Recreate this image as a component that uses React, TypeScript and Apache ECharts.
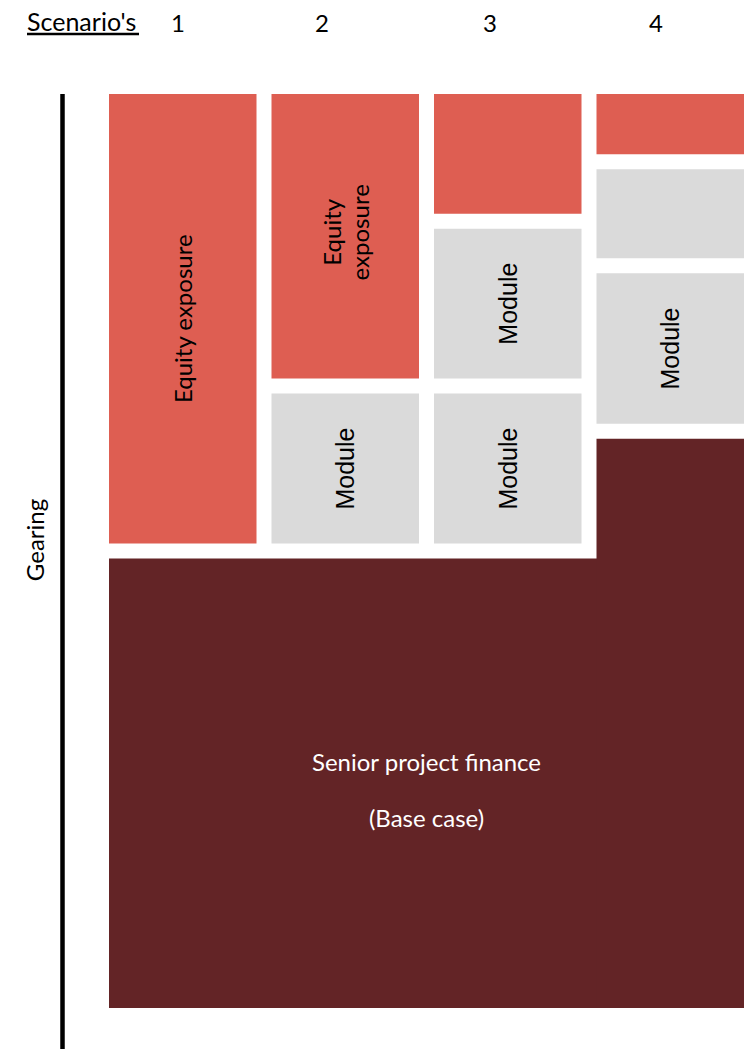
import React, { useEffect, useRef } from "react";
import * as echarts from "echarts";

// Scenario headings
const scenarios = ["1", "2", "3", "4"];
const scenarioTitle = "Scenario's";
const axisTitle = "Gearing";

// Gearing levels (0 = bottom, 100 = top) per scenario
const seniorTop = [50, 50, 50, 62.9];
const equityFrom = [50, 67.75, 85.5, 91.9];
const equityLabels = ["Equity exposure", "Equity\nexposure", "", ""];
// [scenario index, from, to]
const modules: number[][] = [
  [1, 50, 67.75],
  [2, 50, 67.75],
  [2, 67.75, 85.5],
  [3, 62.9, 80.7],
];
const unlabelled: number[][] = [[3, 80.7, 91.9]];
const seniorLabel = "Senior project finance\n\n(Base case)";

const COLORS: Record<string, string> = {
  equity: "#DE5E52",
  module: "#DADADA",
  blank: "#DADADA",
  senior: "#632426",
};

type Block = { x0: number; x1: number; y0: number; y1: number; kind: string; label: string };

const baseTop = Math.min(...seniorTop);
const blocks: Block[] = [
  { x0: 0, x1: scenarios.length, y0: 0, y1: baseTop, kind: "senior", label: seniorLabel },
  ...seniorTop
    .map((t, i) => ({ x0: i, x1: i + 1, y0: 0, y1: t, kind: "senior", label: "" }))
    .filter((b) => b.y1 > baseTop),
  ...equityFrom.map((f, i) => ({ x0: i, x1: i + 1, y0: f, y1: 100, kind: "equity", label: equityLabels[i] })),
  ...modules.map(([i, a, b]) => ({ x0: i, x1: i + 1, y0: a, y1: b, kind: "module", label: "Module" })),
  ...unlabelled.map(([i, a, b]) => ({ x0: i, x1: i + 1, y0: a, y1: b, kind: "blank", label: "" })),
];

const headerX = [178, 322, 490, 656];

// layout (pixels)
const GRID_LEFT = 109;
const GRID_TOP = 94;
const GRID_W = 635;
const GRID_H = 914;
const HALF_GAP = 7.5;

export default function App() {
  const ref = useRef<HTMLDivElement>(null);
  useEffect(() => {
    document.body.style.margin = "0";
    const chart = echarts.init(ref.current!, null, { renderer: "svg" });
    const n = scenarios.length;
    const xPitch = (GRID_W + 2 * HALF_GAP) / n; // px per unit
    const xPad = HALF_GAP / xPitch;
    const yScale = (GRID_H + 2 * HALF_GAP) / 100;
    const yPad = HALF_GAP / yScale;
    const half = HALF_GAP;
    const option: any = {
      animation: false,
      grid: { left: GRID_LEFT, top: GRID_TOP, width: GRID_W, height: GRID_H, containLabel: false },
      xAxis: { type: "value", min: xPad, max: n - xPad, show: false },
      yAxis: { type: "value", min: yPad, max: 100 - yPad, show: false },
      series: [
        {
          type: "custom",
          clip: false,
          encode: { x: [0, 1], y: [2, 3] },
          data: blocks.map((b) => [b.x0, b.x1, b.y0, b.y1]),
          renderItem: (params: any, api: any) => {
            const b = blocks[params.dataIndex];
            const p0 = api.coord([api.value(0), api.value(3)]);
            const p1 = api.coord([api.value(1), api.value(2)]);
            const x = p0[0] + half;
            const y = p0[1] + half;
            const w = p1[0] - p0[0] - 2 * half;
            const h = p1[1] - p0[1] - 2 * half;
            const children: any[] = [
              { type: "rect", shape: { x, y, width: w, height: h }, style: { fill: COLORS[b.kind] } },
            ];
            if (b.label) {
              if (b.kind === "senior") {
                children.push({
                  type: "text",
                  x: x + w / 2,
                  y: y + h / 2 + 6,
                  style: {
                    text: b.label,
                    fill: "#FFFFFF",
                    font: "24px Lato, 'Open Sans', sans-serif",
                    textAlign: "center",
                    textVerticalAlign: "middle",
                    lineHeight: 28,
                  },
                });
              } else {
                const isModule = b.kind === "module";
                children.push({
                  type: "text",
                  x: x + w / 2,
                  y: y + h / 2 - (b.label.includes("\n") ? 4 : 0),
                  rotation: Math.PI / 2,
                  style: {
                    text: b.label,
                    fill: "#000000",
                    font: isModule
                      ? "25px 'Liberation Sans', Arial, sans-serif"
                      : "24px Lato, 'Open Sans', sans-serif",
                    textAlign: "center",
                    textVerticalAlign: "middle",
                    lineHeight: 28,
                  },
                });
              }
            }
            return { type: "group", children };
          },
        },
      ],
      graphic: [
        {
          type: "text",
          left: 27,
          top: 8,
          style: { text: scenarioTitle, fill: "#000", font: "25px Lato, 'Open Sans', sans-serif" },
        },
        {
          type: "line",
          shape: { x1: 27, y1: 34, x2: 139, y2: 34 },
          style: { stroke: "#000", lineWidth: 2.5 },
        },
        ...scenarios.map((s, i) => ({
          type: "text",
          x: headerX[i],
          y: 22,
          style: {
            text: s,
            fill: "#000",
            font: "24px Lato, 'Open Sans', sans-serif",
            textAlign: "center",
            textVerticalAlign: "middle",
          },
        })),
        {
          type: "line",
          shape: { x1: 62.5, y1: 94, x2: 62.5, y2: 1049 },
          style: { stroke: "#000", lineWidth: 4.5 },
        },
        {
          type: "text",
          x: 34,
          y: 540,
          rotation: Math.PI / 2,
          style: {
            text: axisTitle,
            fill: "#000",
            font: "24px Lato, 'Open Sans', sans-serif",
            textAlign: "center",
            textVerticalAlign: "middle",
          },
        },
      ],
    };
    chart.setOption(option);
    return () => chart.dispose();
  }, []);
  return <div ref={ref} style={{ width: 745, height: 1049 }} />;
}
